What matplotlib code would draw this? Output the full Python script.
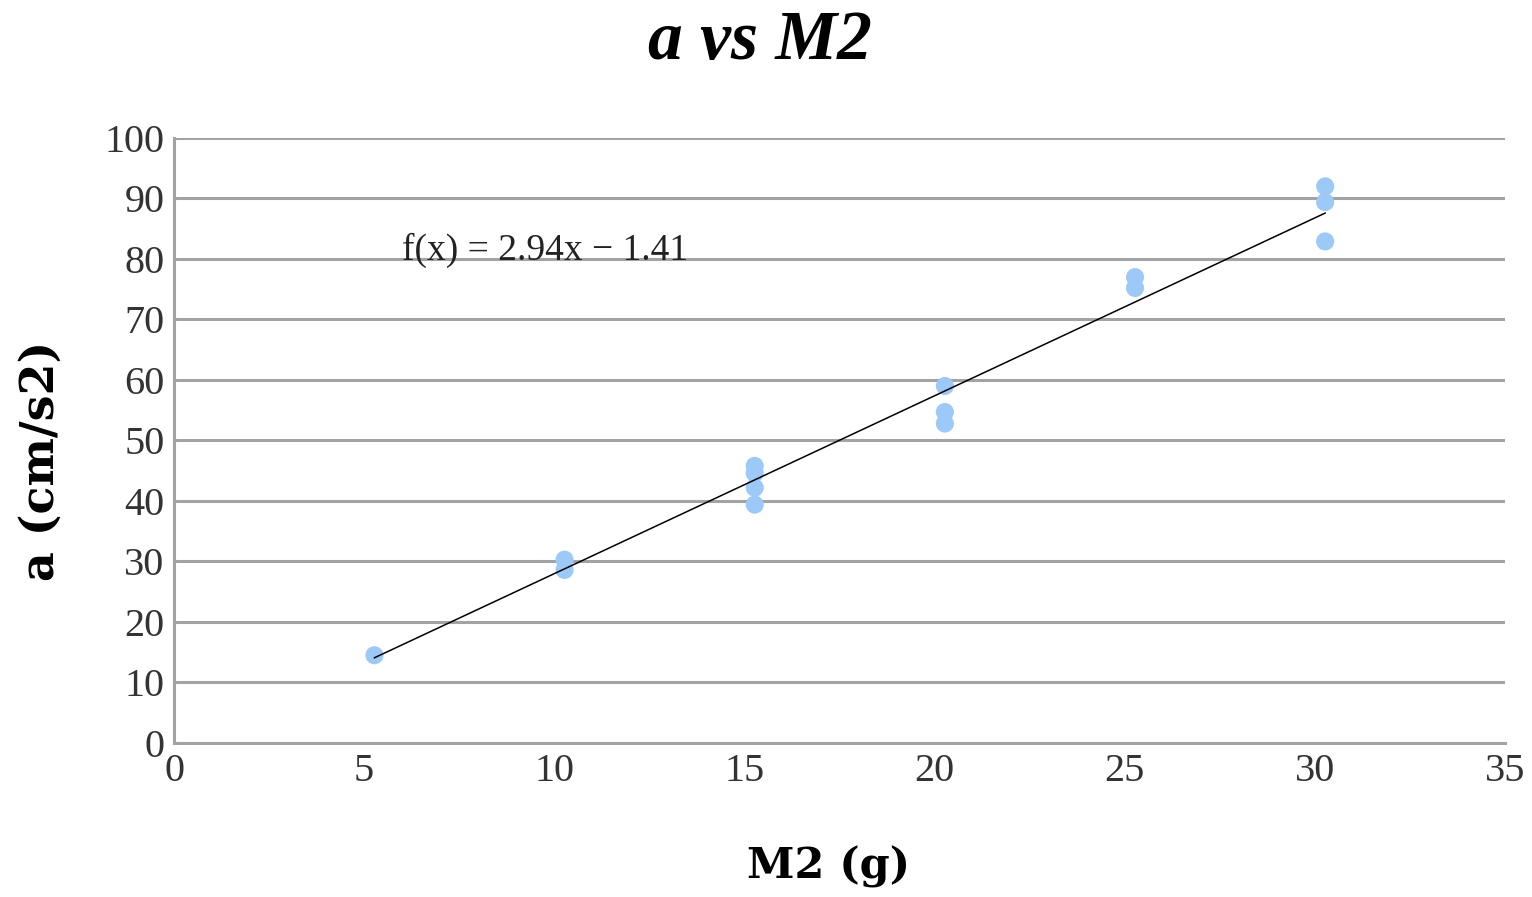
import numpy as np
import matplotlib
matplotlib.use("Agg")
import matplotlib.pyplot as plt

# data
m2 = [5.27, 10.27, 10.27, 15.27, 15.27, 15.27, 15.27,
      20.27, 20.27, 20.27, 25.27, 25.27, 30.27, 30.27, 30.27]
accel = [14.5, 30.3, 28.6, 45.8, 44.6, 42.2, 39.4,
         59.0, 54.7, 52.8, 77.0, 75.2, 92.0, 89.4, 82.9]

slope = 2.94
intercept = -1.41
x_ticks = [0, 5, 10, 15, 20, 25, 30, 35]
y_ticks = [0, 10, 20, 30, 40, 50, 60, 70, 80, 90, 100]

fig = plt.figure(figsize=(15.32, 8.97), dpi=100)
ax = fig.add_axes([0.1136, 0.1717, 0.8688, 0.6745])

grid_col = "#a3a3a3"
for y in y_ticks:
    ax.axhline(y, color=grid_col, lw=2.2, zorder=1)

ax.scatter(m2, accel, marker="o", s=170, color="#9cc9f8", edgecolors="none", zorder=2)

xs = np.array([min(m2), max(m2)])
ax.plot(xs, slope * xs + intercept, color="black", lw=1.1, zorder=3)

ax.text(6.0, 81.5, "f(x) = 2.94x \u2212 1.41", family="Liberation Serif",
        fontsize=27, color="#222222", va="center", zorder=4)

ax.set_xlim(0, 35)
ax.set_ylim(0, 100)
ax.set_xticks(x_ticks)
ax.set_yticks(y_ticks)
ax.tick_params(length=0, labelsize=29, pad=7, colors="#333333")
for lab in ax.get_xticklabels() + ax.get_yticklabels():
    lab.set_family("Liberation Serif")

for side in ["top", "right"]:
    ax.spines[side].set_visible(False)
ax.spines["left"].set_color(grid_col)
ax.spines["bottom"].set_color(grid_col)
ax.spines["left"].set_linewidth(2.2)
ax.spines["bottom"].set_linewidth(2.2)

ax.set_xlabel("M2 (g)", family="DejaVu Serif", fontweight="bold", fontsize=31)
ax.set_ylabel("a (cm/s2)", family="DejaVu Serif", fontweight="bold", fontsize=33)
ax.xaxis.set_label_coords(0.492, -0.17)
ax.yaxis.set_label_coords(-0.083, 0.467)

fig.text(0.496, 0.953, "a vs M2", family="Liberation Serif", fontweight="bold",
         style="italic", fontsize=50, ha="center", va="center")

fig.savefig("out.png", dpi=100)
